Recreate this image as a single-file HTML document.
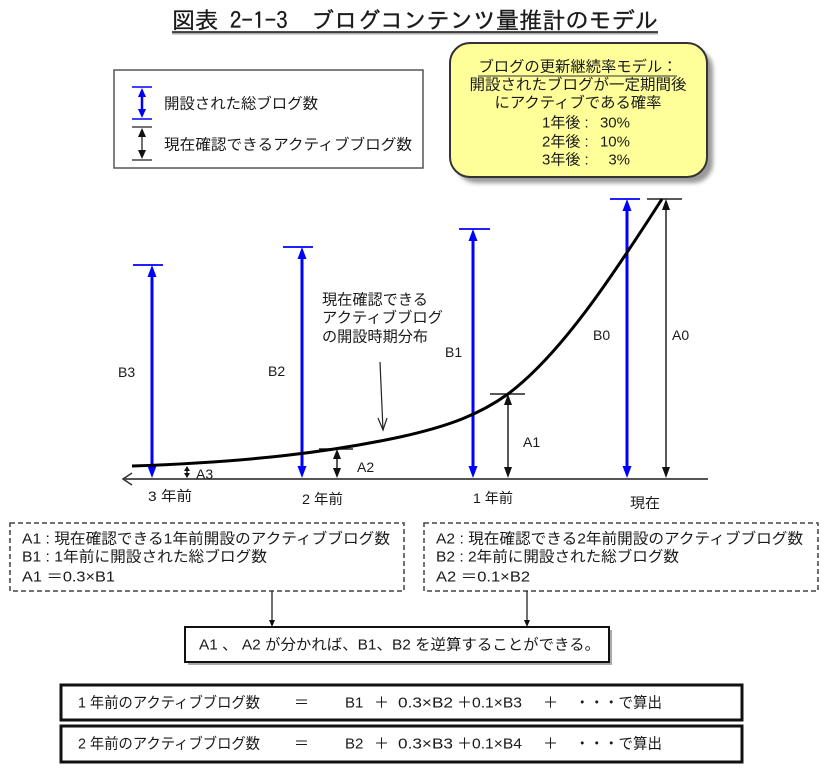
<!DOCTYPE html>
<html><head><meta charset="utf-8"><style>
html,body{margin:0;padding:0;background:#fff;}
svg{display:block;}
text{font-family:"Liberation Sans","Noto Sans CJK JP",sans-serif;fill:#1a1a1a;}
</style></head><body>
<svg width="829" height="769" viewBox="0 0 829 769" xmlns="http://www.w3.org/2000/svg">
<defs>
<filter id="sh" x="-20%" y="-20%" width="140%" height="140%"><feGaussianBlur stdDeviation="2"/></filter>
</defs>
<!-- Title -->
<text x="172" y="20" dominant-baseline="central" font-size="23" textLength="486" lengthAdjust="spacingAndGlyphs" style="font-family:'IPAGothic','Noto Sans CJK JP',sans-serif" stroke="#1a1a1a" stroke-width="0.3">図表 2-1-3　ブログコンテンツ量推計のモデル</text>
<line x1="172" y1="33.5" x2="658" y2="33.5" stroke="#aaa" stroke-width="2"/>
<line x1="172" y1="32" x2="658" y2="32" stroke="#333" stroke-width="1.8"/>

<!-- Legend -->
<rect x="114" y="70" width="309" height="98" fill="#fff" stroke="#555" stroke-width="1.5"/>
<g stroke="#0000ff" stroke-width="1.5"><line x1="132" y1="87" x2="152" y2="87"/><line x1="132" y1="119" x2="152" y2="119"/></g>
<line x1="142" y1="95" x2="142" y2="111" stroke="#0000ff" stroke-width="2.5"/>
<polygon points="142,88 138,97 146,97" fill="#0000ff"/>
<polygon points="142,118 138,109 146,109" fill="#0000ff"/>
<g stroke="#222" stroke-width="1.3"><line x1="132" y1="127" x2="152" y2="127"/><line x1="132" y1="160" x2="152" y2="160"/><line x1="142" y1="130" x2="142" y2="157"/></g>
<polygon points="142,128 138,137 146,137" fill="#111"/>
<polygon points="142,159 138,150 146,150" fill="#111"/>
<text x="164" y="104" dominant-baseline="central" font-size="15" textLength="154" lengthAdjust="spacingAndGlyphs">開設された総ブログ数</text>
<text x="164" y="145" dominant-baseline="central" font-size="15" textLength="248" lengthAdjust="spacingAndGlyphs">現在確認できるアクティブブログ数</text>

<!-- Yellow box -->
<rect x="456" y="49" width="257" height="134" rx="20" fill="#999" filter="url(#sh)"/>
<rect x="450" y="43" width="257" height="134" rx="20" fill="#ffff99" stroke="#333" stroke-width="2"/>
<g font-size="15" text-anchor="middle">
<text x="578" y="67" dominant-baseline="central" textLength="199" lengthAdjust="spacingAndGlyphs">ブログの更新継続率モデル：</text>
<text x="578" y="85" dominant-baseline="central" textLength="217" lengthAdjust="spacingAndGlyphs">開設されたブログが一定期間後</text>
<text x="578" y="103" dominant-baseline="central" textLength="167" lengthAdjust="spacingAndGlyphs">にアクティブである確率</text>
</g>
<line x1="478" y1="76" x2="677" y2="76" stroke="#333" stroke-width="1"/>
<g font-size="15">
<text x="542" y="123" dominant-baseline="central">1年後 :</text>
<text x="542" y="142" dominant-baseline="central">2年後 :</text>
<text x="542" y="160" dominant-baseline="central">3年後 :</text>
<text x="630" y="123" dominant-baseline="central" text-anchor="end">30%</text>
<text x="630" y="142" dominant-baseline="central" text-anchor="end">10%</text>
<text x="630" y="160" dominant-baseline="central" text-anchor="end">3%</text>
</g>

<!-- Axis -->
<line x1="123" y1="479" x2="708" y2="479" stroke="#555" stroke-width="2"/>
<polyline points="132,473 123,479 132,485" fill="none" stroke="#333" stroke-width="1.5"/>

<!-- Blue arrows -->
<g stroke="#0000ff" stroke-width="1.8">
<line x1="133" y1="265" x2="163" y2="265"/>
<line x1="283" y1="247" x2="313" y2="247"/>
<line x1="459" y1="229" x2="490" y2="229"/>
<line x1="610" y1="199" x2="640" y2="199"/>
</g>
<g stroke="#0000ff" stroke-width="3">
<line x1="152" y1="274" x2="152" y2="469"/>
<line x1="302" y1="256" x2="302" y2="469"/>
<line x1="473" y1="238" x2="473" y2="469"/>
<line x1="627" y1="208" x2="627" y2="469"/>
</g>
<g fill="#0000ff">
<polygon points="152,265 147.5,277 156.5,277"/><polygon points="152,478 147.5,466 156.5,466"/>
<polygon points="302,247 297.5,259 306.5,259"/><polygon points="302,478 297.5,466 306.5,466"/>
<polygon points="473,229 468.5,241 477.5,241"/><polygon points="473,478 468.5,466 477.5,466"/>
<polygon points="627,199 622.5,211 631.5,211"/><polygon points="627,478 622.5,466 631.5,466"/>
</g>

<!-- Black arrows -->
<g stroke="#222" stroke-width="1.5">
<line x1="647" y1="199" x2="682" y2="199"/>
<line x1="490" y1="394" x2="525" y2="394"/>
<line x1="319" y1="449" x2="353" y2="449"/>
<line x1="666" y1="206" x2="666" y2="470"/>
<line x1="508" y1="401" x2="508" y2="470"/>
<line x1="337" y1="456" x2="337" y2="470"/>
<line x1="187" y1="469" x2="187" y2="475"/>
</g>
<g fill="#111">
<polygon points="666,199 662,210 670,210"/><polygon points="666,478 662,467 670,467"/>
<polygon points="508,394 504,405 512,405"/><polygon points="508,478 504,467 512,467"/>
<polygon points="337,449 333,459 341,459"/><polygon points="337,478 333,468 341,468"/>
<polygon points="187,466 184,471 190,471"/><polygon points="187,478 184,473 190,473"/>
</g>

<!-- Curve -->
<path d="M132,466 C250,462 330,452 400,437 C450,426 480,414 508,394 C560,355 610,280 662,199" fill="none" stroke="#000" stroke-width="3"/>

<!-- Annotation arrow -->
<line x1="380" y1="362" x2="383" y2="430" stroke="#222" stroke-width="1.2"/>
<polyline points="378,418 383,430 387,418" fill="none" stroke="#222" stroke-width="1.2"/>
<g font-size="15">
<text x="322" y="300" dominant-baseline="central" textLength="106" lengthAdjust="spacingAndGlyphs">現在確認できる</text>
<text x="322" y="318" dominant-baseline="central" textLength="121" lengthAdjust="spacingAndGlyphs">アクティブブログ</text>
<text x="322" y="337" dominant-baseline="central" textLength="106" lengthAdjust="spacingAndGlyphs">の開設時期分布</text>
</g>

<!-- Labels -->
<g font-size="14">
<text x="118" y="372" dominant-baseline="central">B3</text>
<text x="268" y="371" dominant-baseline="central">B2</text>
<text x="445" y="352" dominant-baseline="central">B1</text>
<text x="593" y="335" dominant-baseline="central">B0</text>
<text x="672" y="335" dominant-baseline="central">A0</text>
<text x="523" y="442" dominant-baseline="central">A1</text>
<text x="357" y="467" dominant-baseline="central">A2</text>
<text x="196" y="474" dominant-baseline="central">A3</text>
<text x="148" y="496" dominant-baseline="central" textLength="44" lengthAdjust="spacingAndGlyphs">3 年前</text>
<text x="302" y="499" dominant-baseline="central" textLength="41" lengthAdjust="spacingAndGlyphs">2 年前</text>
<text x="473" y="498" dominant-baseline="central" textLength="40" lengthAdjust="spacingAndGlyphs">1 年前</text>
<text x="630" y="503" dominant-baseline="central" textLength="30" lengthAdjust="spacingAndGlyphs">現在</text>
</g>

<!-- Dashed boxes -->
<rect x="10" y="523" width="394" height="68" fill="none" stroke="#444" stroke-width="1.5" stroke-dasharray="5 3"/>
<rect x="424" y="523" width="394" height="68" fill="none" stroke="#444" stroke-width="1.5" stroke-dasharray="5 3"/>
<g font-size="15">
<text x="22" y="539" dominant-baseline="central" textLength="368" lengthAdjust="spacingAndGlyphs">A1 : 現在確認できる1年前開設のアクティブブログ数</text>
<text x="22" y="557" dominant-baseline="central" textLength="245" lengthAdjust="spacingAndGlyphs">B1 : 1年前に開設された総ブログ数</text>
<text x="22" y="577" dominant-baseline="central" textLength="93" lengthAdjust="spacingAndGlyphs">A1 ＝0.3×B1</text>
<text x="436" y="539" dominant-baseline="central" textLength="367" lengthAdjust="spacingAndGlyphs">A2 : 現在確認できる2年前開設のアクティブブログ数</text>
<text x="436" y="557" dominant-baseline="central" textLength="243" lengthAdjust="spacingAndGlyphs">B2 : 2年前に開設された総ブログ数</text>
<text x="436" y="577" dominant-baseline="central" textLength="94" lengthAdjust="spacingAndGlyphs">A2 ＝0.1×B2</text>
</g>

<!-- Connectors -->
<g stroke="#222" stroke-width="1.3">
<line x1="272" y1="591" x2="272" y2="622"/>
<line x1="527" y1="591" x2="527" y2="622"/>
</g>
<polygon points="272,627 269,620 275,620" fill="#111"/>
<polygon points="527,627 524,620 530,620" fill="#111"/>

<!-- Middle box -->
<rect x="188" y="630" width="424" height="35" fill="#aaa"/>
<rect x="185" y="627" width="424" height="35" fill="#fff" stroke="#111" stroke-width="2"/>
<text x="199" y="645" dominant-baseline="central" font-size="15" textLength="401" lengthAdjust="spacingAndGlyphs">A1 、 A2 が分かれば、B1、B2 を逆算することができる。</text>

<!-- Bottom boxes -->
<rect x="61" y="685" width="681" height="35" fill="#fff" stroke="#111" stroke-width="3"/>
<rect x="61" y="726" width="681" height="36" fill="#fff" stroke="#111" stroke-width="3"/>
<g font-size="15">
<text x="78" y="703" dominant-baseline="central" textLength="182" lengthAdjust="spacingAndGlyphs">1 年前のアクティブブログ数</text>
<text x="294" y="703" dominant-baseline="central">＝</text>
<text x="345" y="703" dominant-baseline="central">B1</text>
<text x="374" y="703" dominant-baseline="central">＋</text>
<text x="398" y="703" dominant-baseline="central" textLength="55" lengthAdjust="spacingAndGlyphs">0.3×B2</text>
<text x="457" y="703" dominant-baseline="central">＋</text>
<text x="472" y="703" dominant-baseline="central" textLength="50" lengthAdjust="spacingAndGlyphs">0.1×B3</text>
<text x="543" y="703" dominant-baseline="central">＋</text>
<text x="575" y="703" dominant-baseline="central" textLength="87" lengthAdjust="spacingAndGlyphs">・・・で算出</text>

<text x="78" y="744" dominant-baseline="central" textLength="182" lengthAdjust="spacingAndGlyphs">2 年前のアクティブブログ数</text>
<text x="294" y="744" dominant-baseline="central">＝</text>
<text x="345" y="744" dominant-baseline="central">B2</text>
<text x="374" y="744" dominant-baseline="central">＋</text>
<text x="398" y="744" dominant-baseline="central" textLength="55" lengthAdjust="spacingAndGlyphs">0.3×B3</text>
<text x="457" y="744" dominant-baseline="central">＋</text>
<text x="472" y="744" dominant-baseline="central" textLength="50" lengthAdjust="spacingAndGlyphs">0.1×B4</text>
<text x="543" y="744" dominant-baseline="central">＋</text>
<text x="575" y="744" dominant-baseline="central" textLength="87" lengthAdjust="spacingAndGlyphs">・・・で算出</text>
</g>
</svg>
</body></html>
